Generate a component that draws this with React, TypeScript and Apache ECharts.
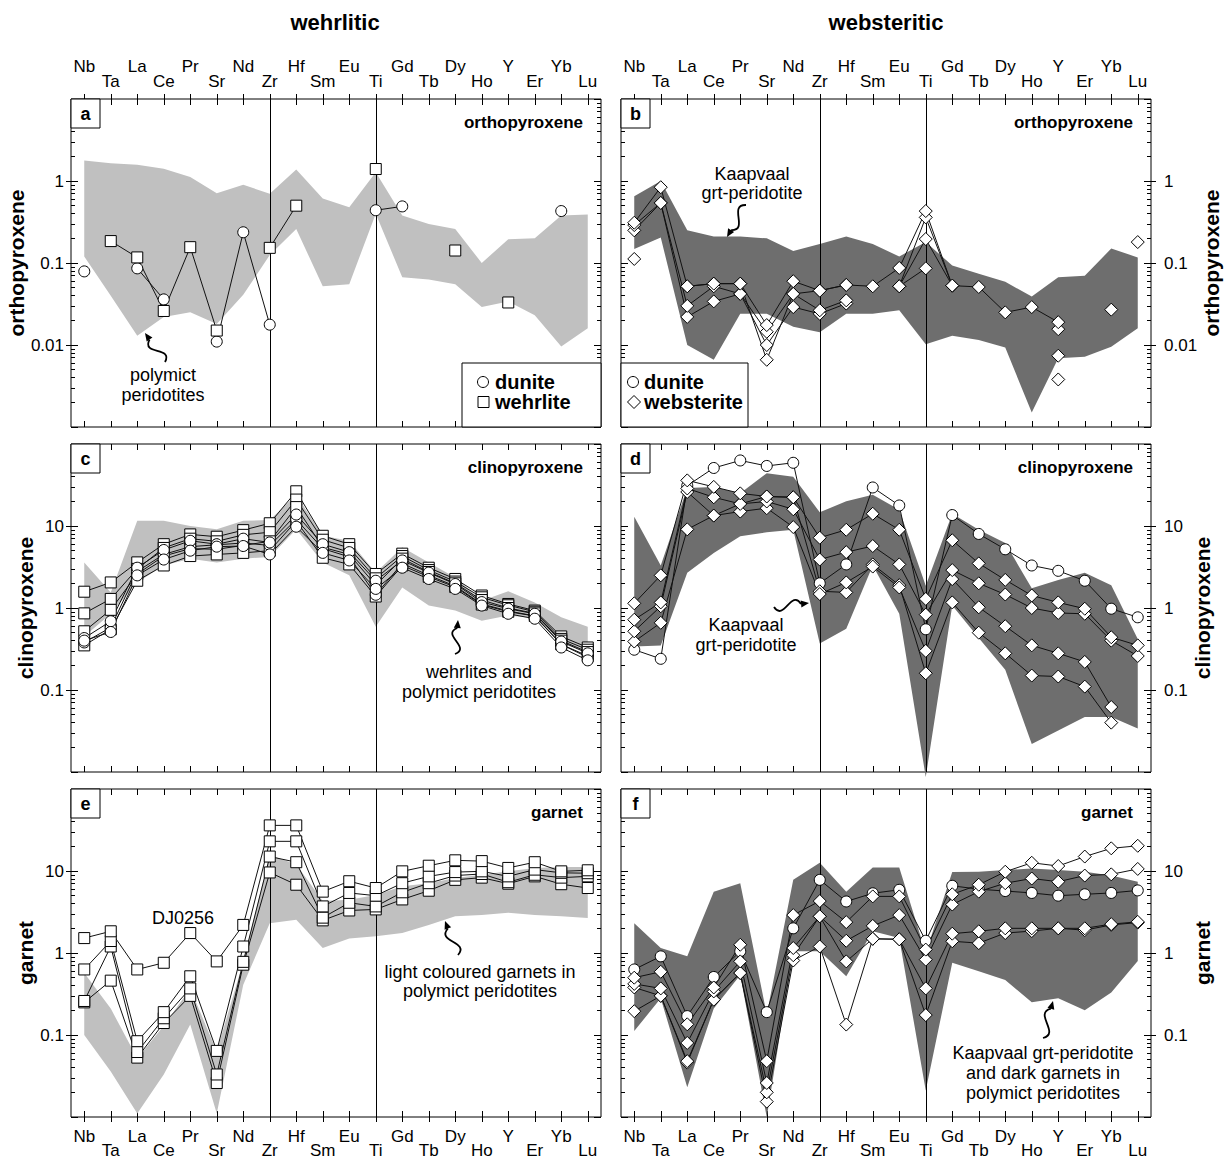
import React, { useEffect, useRef } from 'react';
import * as echarts from 'echarts';

// ---------- categories ----------
const ELEMENTS = ['Nb', 'Ta', 'La', 'Ce', 'Pr', 'Sr', 'Nd', 'Zr', 'Hf', 'Sm', 'Eu', 'Ti', 'Gd', 'Tb', 'Dy', 'Ho', 'Y', 'Er', 'Yb', 'Lu'];

// ---------- panel a : orthopyroxene, wehrlitic ----------
const A_BAND_HI = [1.78, 1.65, 1.58, 1.41, 1.12, 0.71, 0.9, 0.7, 1.38, 0.61, 0.48, 1.28, 0.38, 0.3, 0.26, 0.1, 0.195, 0.2, 0.38, 0.39];
const A_BAND_LO = [0.12, 0.04, 0.013, 0.022, 0.025, 0.018, 0.041, 0.125, 0.26, 0.052, 0.055, 0.4, 0.067, 0.063, 0.055, 0.029, 0.034, 0.023, 0.0096, 0.016];
const A_DUNITE = [0.079, null, 0.086, 0.036, null, 0.011, 0.237, 0.0177, null, null, null, 0.44, 0.49, null, null, null, null, null, 0.43, null];
const A_WEHRLITE = [null, 0.185, 0.117, 0.026, 0.156, 0.015, null, 0.153, 0.5, null, null, 1.4, null, null, 0.142, null, 0.033, null, null, null];

// ---------- panel b : orthopyroxene, websteritic ----------
const B_BAND_HI = [0.65, 1.0, 0.25, 0.21, 0.21, 0.2, 0.14, 0.17, 0.21, 0.17, 0.12, 0.18, 0.093, 0.074, 0.059, 0.039, 0.067, 0.07, 0.15, 0.117];
const B_BAND_LO = [0.148, 0.205, 0.01, 0.0066, 0.024, 0.024, 0.0167, 0.0143, 0.024, 0.024, 0.0265, 0.0102, 0.013, 0.0115, 0.0093, 0.0015, 0.0069, 0.0072, 0.0095, 0.016];
const B_WEB_1 = [0.31, 0.84, 0.052, 0.056, 0.056, 0.0175, 0.06, 0.046, 0.054, 0.052, 0.087, 0.43, 0.053, 0.051, 0.025, 0.029, 0.019, null, 0.027, null];
const B_WEB_2 = [0.29, 0.54, 0.03, 0.052, 0.042, 0.0145, 0.042, 0.0265, 0.035, null, 0.052, 0.36, 0.053, null, null, null, 0.0156, null, null, 0.18];
const B_WEB_3 = [0.25, 0.54, 0.022, 0.034, 0.042, 0.01, 0.029, 0.024, 0.032, null, 0.052, 0.196, 0.053, null, null, null, 0.0074, null, null, null];
const B_WEB_4 = [0.112, null, 0.052, 0.056, 0.056, 0.0066, 0.042, 0.046, 0.054, null, 0.052, 0.086, null, null, null, null, 0.0038, null, null, null];

// ---------- panel c : clinopyroxene, wehrlitic ----------
const C_BAND_HI = [3.6, 1.55, 11.6, 11.6, 10, 9.1, 11.6, 11.8, 24, 7.6, 6.6, 2.7, 5.5, 3.6, 2.36, 1.23, 1.6, 1.17, 0.77, 0.59];
const C_BAND_LO = [0.45, 0.85, 2.05, 3.3, 4.0, 3.6, 4.0, 4.2, 9.1, 3.6, 2.5, 0.59, 1.78, 1.07, 0.93, 0.7, 0.81, 0.75, 0.37, 0.29];
const C_WEH_1 = [1.58, 2.05, 3.6, 6.0, 7.9, 7.4, 8.9, 10.8, 26.5, 7.6, 6.0, 2.6, 4.6, 3.1, 2.26, 1.42, 1.12, 0.93, 0.45, 0.33];
const C_WEH_2 = [0.86, 1.29, 3.0, 5.4, 7.0, 6.5, 7.8, 8.4, 21, 6.8, 5.4, 2.3, 4.3, 2.9, 2.1, 1.35, 1.08, 0.9, 0.42, 0.31];
const C_WEH_3 = [0.52, 0.95, 2.6, 4.3, 5.3, 5.2, 5.8, 6.5, 17, 5.5, 4.5, 1.9, 4.0, 2.75, 2.0, 1.25, 1.0, 0.86, 0.4, 0.29];
const C_WEH_4 = [0.35, 0.55, 2.15, 3.3, 4.3, 4.5, 4.7, 5.0, 11.5, 4.1, 3.4, 1.38, 3.3, 2.4, 1.8, 1.1, 0.9, 0.8, 0.36, 0.26];
const C_DUN_1 = [0.43, 0.69, 3.1, 5.1, 6.6, 6.0, 7.0, 6.3, 13.8, 6.0, 4.8, 2.15, 3.8, 2.7, 1.96, 1.18, 0.98, 0.85, 0.39, 0.28];
const C_DUN_2 = [0.4, 0.51, 2.5, 3.9, 5.0, 5.6, 5.7, 4.5, 9.8, 4.7, 3.8, 1.71, 3.1, 2.26, 1.71, 1.07, 0.85, 0.74, 0.33, 0.23];
const C_DUN_3 = [0.38, 0.58, 2.8, 4.5, 5.6, 5.9, 6.2, 5.8, 12, 5.3, 4.2, 1.45, 3.5, 2.5, 1.85, 1.12, 0.92, 0.8, 0.36, 0.25];

// ---------- panel d : clinopyroxene, websteritic ----------
const D_BAND_HI = [13, 3.3, 29, 30, 25, 44, 40, 14.7, 20, 24, 15.8, 1.87, 14.1, 9.0, 6.2, 1.74, 2.2, 2.7, 1.9, 0.42];
const D_BAND_LO = [0.34, 0.35, 2.7, 4.7, 7.5, 8.4, 9.0, 0.37, 0.56, 3.3, 0.85, 0.0087, 1.07, 0.43, 0.176, 0.022, 0.032, 0.047, 0.047, 0.034];
const D_DUN_1 = [0.31, 0.24, 31, 51, 63, 54, 59, 2.0, 3.4, 29.5, 17.8, 0.55, 13.6, 8.0, 5.2, 3.3, 2.84, 2.15, 0.98, 0.77];
const D_WEB_1 = [1.14, 2.5, 36, 30, 25, 22.9, 22.4, 7.2, 9.0, 14.1, 9.0, 1.29, 6.7, 3.5, 2.2, 1.42, 1.17, 0.98, 0.44, 0.35];
const D_WEB_2 = [0.72, 1.17, 28.7, 22.4, 18.6, 19.9, 16, 3.9, 4.8, 5.7, 3.4, 0.83, 2.9, 2.0, 1.46, 1.0, 0.87, 0.85, 0.4, 0.26];
const D_WEB_3 = [0.52, 1.05, 26, 13.4, 15, 16.5, 9.7, 1.48, 2.05, 3.2, 1.78, 0.3, 2.25, 1.02, 0.6, 0.35, 0.28, 0.22, 0.062, null];
const D_WEB_4 = [0.39, 0.66, 9.1, 13.4, 18.6, 22.9, 22.4, 1.6, 1.55, 3.4, 1.9, 0.16, 1.17, 0.5, 0.28, 0.15, 0.146, 0.11, 0.04, null];

// ---------- panel e : garnet, wehrlitic ----------
const E_BAND_HI = [0.57, 0.21, 0.052, 0.13, 0.37, 0.063, 0.79, 15.8, 12, 4.3, 4.47, 5.1, 6.5, 7.1, 8.2, 9.0, 9.9, 10.9, 11.2, 11.2];
const E_BAND_LO = [0.1, 0.036, 0.011, 0.033, 0.134, 0.011, 0.41, 2.3, 2.55, 1.15, 1.5, 1.6, 1.75, 2.2, 2.8, 2.9, 3.1, 2.9, 2.8, 2.67];
const E_WEH_DJ0256 = [1.52, 1.84, 0.63, 0.76, 1.75, 0.79, 2.2, 36, 36, 5.6, 7.5, 6.2, 9.9, 11.6, 13.5, 13.2, 10.9, 12.8, 9.9, 10.2];
const E_WEH_2 = [0.63, 1.4, 0.084, 0.19, 0.52, 0.064, 1.2, 23, 23, 3.7, 5.4, 5.0, 7.1, 8.6, 9.7, 9.9, 8.6, 10.4, 9.5, 9.4];
const E_WEH_3 = [0.26, 1.2, 0.062, 0.16, 0.37, 0.033, 0.78, 15, 12.8, 2.7, 4.1, 3.7, 5.5, 7.1, 8.8, 9.2, 7.3, 9.0, 8.3, 8.6];
const E_WEH_4 = [0.25, 0.46, 0.053, 0.14, 0.3, 0.026, 0.72, 9.6, 6.8, 2.5, 3.3, 3.4, 4.5, 5.75, 7.8, 8.3, 7.0, 8.6, 6.9, 6.2];

// ---------- panel f : garnet, websteritic ----------
const F_BAND_HI = [2.3, 1.15, 0.91, 5.6, 7.1, 0.178, 7.8, 12.6, 5.6, 11, 11, 1.0, 9.7, 9.8, 10.3, 10.7, 10.3, 9.8, 8.8, 7.4];
const F_BAND_LO = [0.112, 0.28, 0.023, 0.21, 0.54, 0.0099, 1.05, 1.05, 0.52, 1.84, 1.52, 0.021, 0.76, 0.6, 0.47, 0.25, 0.28, 0.2, 0.33, 0.8];
const F_DUN_1 = [0.63, 0.91, 0.17, 0.51, 1.05, 0.19, 2.0, 7.8, 4.25, 5.35, 5.9, 1.41, 6.6, 6.0, 5.7, 5.4, 5.0, 5.2, 5.4, 5.8];
const F_WEB_1 = [0.5, 0.59, 0.135, 0.38, 1.26, 0.048, 2.9, 4.3, 2.38, 4.9, 4.9, 1.1, 5.2, 6.8, 9.8, 12.6, 11.5, 15, 18.9, 20.3];
const F_WEB_2 = [0.42, 0.37, 0.08, 0.34, 0.79, 0.026, 1.15, 2.8, 1.41, 2.14, 2.9, 0.83, 3.9, 5.6, 7.1, 8.1, 7.4, 8.8, 9.1, 10.6];
const F_WEB_3 = [0.38, 0.3, 0.048, 0.27, 0.57, 0.02, 0.94, 2.8, 0.79, 1.49, 1.47, 0.37, 1.72, 1.84, 2.0, 2.0, 2.0, 2.0, 2.25, 2.4];
const F_WEB_4 = [0.195, 0.3, 0.046, 0.27, 0.57, 0.0154, 0.81, 1.2, 0.134, 1.49, 1.47, 0.175, 1.39, 1.32, 1.75, 1.85, 2.0, 1.9, 2.2, 2.35];

// ---------- styling ----------
const FONT = '"Liberation Sans", Arial, Helvetica, sans-serif';
const LIGHT = '#c0c0c0';
const DARK = '#6e6e6e';
const W = 530;
const H = 328;

const SYMBOLS: Record<string, { symbol: string; size: number }> = {
  dunite: { symbol: 'circle', size: 11 },
  wehrlite: { symbol: 'rect', size: 11 },
  websterite: { symbol: 'diamond', size: 13 },
};

const PANELS = [
  {
    letter: 'a', left: 71, top: 99, side: 'left', min: 0.001, max: 10, mineral: 'orthopyroxene', xLabels: 'top',
    band: { hi: A_BAND_HI, lo: A_BAND_LO, color: LIGHT },
    samples: [
      { kind: 'dunite', values: A_DUNITE },
      { kind: 'wehrlite', values: A_WEHRLITE },
    ],
  },
  {
    letter: 'b', left: 621, top: 99, side: 'right', min: 0.001, max: 10, mineral: 'orthopyroxene', xLabels: 'top',
    band: { hi: B_BAND_HI, lo: B_BAND_LO, color: DARK },
    samples: [
      { kind: 'websterite', values: B_WEB_4 },
      { kind: 'websterite', values: B_WEB_3 },
      { kind: 'websterite', values: B_WEB_2 },
      { kind: 'websterite', values: B_WEB_1 },
    ],
  },
  {
    letter: 'c', left: 71, top: 444, side: 'left', min: 0.01, max: 100, mineral: 'clinopyroxene', xLabels: null,
    band: { hi: C_BAND_HI, lo: C_BAND_LO, color: LIGHT },
    samples: [
      { kind: 'wehrlite', values: C_WEH_1 },
      { kind: 'wehrlite', values: C_WEH_2 },
      { kind: 'wehrlite', values: C_WEH_3 },
      { kind: 'wehrlite', values: C_WEH_4 },
      { kind: 'dunite', values: C_DUN_3 },
      { kind: 'dunite', values: C_DUN_1 },
      { kind: 'dunite', values: C_DUN_2 },
    ],
  },
  {
    letter: 'd', left: 621, top: 444, side: 'right', min: 0.01, max: 100, mineral: 'clinopyroxene', xLabels: null,
    band: { hi: D_BAND_HI, lo: D_BAND_LO, color: DARK },
    samples: [
      { kind: 'dunite', values: D_DUN_1 },
      { kind: 'websterite', values: D_WEB_4 },
      { kind: 'websterite', values: D_WEB_3 },
      { kind: 'websterite', values: D_WEB_2 },
      { kind: 'websterite', values: D_WEB_1 },
    ],
  },
  {
    letter: 'e', left: 71, top: 789, side: 'left', min: 0.01, max: 100, mineral: 'garnet', xLabels: 'bottom',
    band: { hi: E_BAND_HI, lo: E_BAND_LO, color: LIGHT },
    samples: [
      { kind: 'wehrlite', values: E_WEH_4 },
      { kind: 'wehrlite', values: E_WEH_3 },
      { kind: 'wehrlite', values: E_WEH_2 },
      { kind: 'wehrlite', values: E_WEH_DJ0256 },
    ],
  },
  {
    letter: 'f', left: 621, top: 789, side: 'right', min: 0.01, max: 100, mineral: 'garnet', xLabels: 'bottom',
    band: { hi: F_BAND_HI, lo: F_BAND_LO, color: DARK },
    samples: [
      { kind: 'websterite', values: F_WEB_4 },
      { kind: 'websterite', values: F_WEB_3 },
      { kind: 'dunite', values: F_DUN_1 },
      { kind: 'websterite', values: F_WEB_2 },
      { kind: 'websterite', values: F_WEB_1 },
    ],
  },
];

const ANNOTATIONS = [
  { lines: ['polymict', 'peridotites'], x: 163, y: [375, 395], tail: [165, 362], tip: [145, 333] },
  { lines: ['Kaapvaal', 'grt-peridotite'], x: 752, y: [174, 193], tail: [746, 205], tip: [727, 237] },
  { lines: ['wehrlites and', 'polymict peridotites'], x: 479, y: [672, 692], tail: [455, 654], tip: [458, 620] },
  { lines: ['Kaapvaal', 'grt-peridotite'], x: 746, y: [625, 645], tail: [774, 607], tip: [809, 603] },
  { lines: ['light coloured garnets in', 'polymict peridotites'], x: 480, y: [972, 991], tail: [458, 955], tip: [445, 921] },
  { lines: ['Kaapvaal grt-peridotite', 'and dark garnets in', 'polymict peridotites'], x: 1043, y: [1053, 1073, 1093], tail: [1043, 1038], tip: [1053, 1001] },
];

const fmtLog = (v: number) => {
  const e = Math.round(Math.log10(v));
  return e >= 0 ? String(Math.pow(10, e)) : Math.pow(10, e).toFixed(-e);
};

function squiggleArrow(tail: number[], tip: number[]) {
  const [x0, y0] = tail;
  const [x1, y1] = tip;
  const dx = x1 - x0;
  const dy = y1 - y0;
  const L = Math.hypot(dx, dy);
  const ux = dx / L, uy = dy / L;
  const nx = -uy, ny = ux;
  const head = 8;
  const bx = x1 - ux * head, by = y1 - uy * head;
  const amp = 16;
  return [
    {
      type: 'bezierCurve', silent: true, z: 100,
      shape: {
        x1: x0, y1: y0, x2: bx, y2: by,
        cpx1: x0 + (bx - x0) * 0.3 + nx * amp, cpy1: y0 + (by - y0) * 0.3 + ny * amp,
        cpx2: x0 + (bx - x0) * 0.7 - nx * amp, cpy2: y0 + (by - y0) * 0.7 - ny * amp,
      },
      style: { stroke: '#000', lineWidth: 1.8, fill: null },
    },
    {
      type: 'polygon', silent: true, z: 100,
      shape: { points: [[x1, y1], [bx + nx * 3.5, by + ny * 3.5], [bx - nx * 3.5, by - ny * 3.5]] },
      style: { fill: '#000' },
    },
  ];
}

function buildOption() {
  const grid: any[] = [];
  const xAxis: any[] = [];
  const yAxis: any[] = [];
  const series: any[] = [];
  const graphic: any[] = [];
  const lineStyle = { color: '#000', width: 1 };

  PANELS.forEach((p, gi) => {
    grid.push({ left: p.left, top: p.top, width: W, height: H, show: true, borderColor: '#000', borderWidth: 1, backgroundColor: 'transparent' });

    const catBase = {
      gridIndex: gi, type: 'category', data: ELEMENTS, boundaryGap: true,
      axisLine: { show: false, onZero: false }, splitLine: { show: false },
    };
    const xBase = xAxis.length;
    const tickIn = { show: true, inside: true, length: 6, alignWithLabel: true, interval: 0, lineStyle };
    xAxis.push({ ...catBase, position: 'bottom', axisTick: tickIn, axisLabel: { show: false } });
    xAxis.push({ ...catBase, position: 'top', axisTick: tickIn, axisLabel: { show: false } });
    if (p.xLabels) {
      const isTop = p.xLabels === 'top';
      const lbl = { show: true, fontSize: 17, fontFamily: FONT, color: '#000' };
      xAxis.push({
        ...catBase, position: p.xLabels,
        axisTick: { show: true, inside: false, length: 5, alignWithLabel: true, interval: 0, lineStyle },
        axisLabel: { ...lbl, interval: (i: number) => i % 2 === 0, margin: isTop ? 24 : 11 },
      });
      xAxis.push({
        ...catBase, position: p.xLabels,
        axisTick: { show: false },
        axisLabel: { ...lbl, interval: (i: number) => i % 2 === 1, margin: isTop ? 9 : 25 },
      });
    }

    const logBase = {
      gridIndex: gi, type: 'log', logBase: 10, min: p.min, max: p.max,
      axisLine: { show: false, onZero: false }, splitLine: { show: false }, minorSplitLine: { show: false },
    };
    const other = p.side === 'left' ? 'right' : 'left';
    const yBase = yAxis.length;
    yAxis.push({
      ...logBase, position: p.side,
      axisTick: { show: true, inside: false, length: 5, lineStyle },
      minorTick: { show: false },
      axisLabel: {
        show: true, margin: p.side === 'left' ? 7 : 13, fontSize: 17, fontFamily: FONT, color: '#000',
        formatter: fmtLog, showMinLabel: false, showMaxLabel: false,
      },
      name: p.mineral, nameLocation: 'middle', nameGap: p.side === 'left' ? 26 : 34, nameRotate: 90,
      nameTextStyle: { fontSize: 21, fontWeight: 'bold', fontFamily: FONT, color: '#000' },
    });
    const inTicks = {
      axisTick: { show: true, inside: true, length: 7, lineStyle },
      minorTick: { show: true, splitNumber: 9, length: 4, lineStyle },
      axisLabel: { show: false },
    };
    yAxis.push({ ...logBase, position: p.side, ...inTicks });
    yAxis.push({ ...logBase, position: other, ...inTicks });

    // field of comparison samples
    const hi = p.band.hi, lo = p.band.lo, bandColor = p.band.color;
    series.push({
      type: 'custom', xAxisIndex: xBase, yAxisIndex: yBase, z: 1, silent: true, clip: false,
      data: hi.map((v, i) => [i, v]), encode: { x: 0, y: 1 },
      renderItem: (params: any, api: any) => {
        if (params.dataIndex !== 0) return null;
        const pts: number[][] = [];
        hi.forEach((v, i) => pts.push(api.coord([i, v])));
        for (let i = lo.length - 1; i >= 0; i--) pts.push(api.coord([i, lo[i]]));
        return { type: 'polygon', shape: { points: pts }, style: { fill: bandColor, stroke: null } };
      },
    });

    p.samples.forEach((s, si) => {
      const sym = SYMBOLS[s.kind];
      series.push({
        type: 'line', name: s.kind, xAxisIndex: xBase, yAxisIndex: yBase,
        data: s.values.map((v) => (v == null ? '-' : v)),
        symbol: sym.symbol, symbolSize: sym.size, showSymbol: true, showAllSymbol: true, connectNulls: false,
        lineStyle: { color: '#111', width: 1 },
        itemStyle: { color: '#fff', borderColor: '#000', borderWidth: 1 },
        emphasis: { disabled: true }, silent: true, z: 10,
        markLine: si === 0 ? {
          silent: true, symbol: ['none', 'none'], label: { show: false }, z: 5,
          lineStyle: { color: '#000', width: 1, type: 'solid' },
          data: [{ xAxis: 'Zr' }, { xAxis: 'Ti' }],
        } : undefined,
      });
    });

    // letter box
    graphic.push({ type: 'rect', silent: true, z: 100, shape: { x: p.left, y: p.top, width: 29, height: 29 }, style: { fill: '#fff', stroke: '#000', lineWidth: 1 } });
    graphic.push({ type: 'text', silent: true, z: 101, x: p.left + 14.5, y: p.top + 15, style: { text: p.letter, fontSize: 18, fontWeight: 'bold', fontFamily: FONT, fill: '#000', align: 'center', verticalAlign: 'middle' } });
    // mineral title inside panel
    graphic.push({ type: 'text', silent: true, z: 101, x: p.left + W - 18, y: p.top + 23.5, style: { text: p.mineral, fontSize: 17, fontWeight: 'bold', fontFamily: FONT, fill: '#000', align: 'right', verticalAlign: 'middle' } });
  });

  // column titles
  graphic.push({ type: 'text', silent: true, z: 101, x: 335, y: 22, style: { text: 'wehrlitic', fontSize: 22, fontWeight: 'bold', fontFamily: FONT, fill: '#000', align: 'center', verticalAlign: 'middle' } });
  graphic.push({ type: 'text', silent: true, z: 101, x: 886, y: 22, style: { text: 'websteritic', fontSize: 22, fontWeight: 'bold', fontFamily: FONT, fill: '#000', align: 'center', verticalAlign: 'middle' } });

  // legends
  const legTxt = (text: string, x: number, y: number) => ({ type: 'text', silent: true, z: 101, x, y, style: { text, fontSize: 20, fontWeight: 'bold', fontFamily: FONT, fill: '#000', align: 'left', verticalAlign: 'middle' } });
  graphic.push({ type: 'rect', silent: true, z: 100, shape: { x: 462, y: 363, width: 139, height: 64 }, style: { fill: '#fff', stroke: '#000', lineWidth: 1 } });
  graphic.push({ type: 'circle', silent: true, z: 101, shape: { cx: 483, cy: 382, r: 5.5 }, style: { fill: '#fff', stroke: '#000', lineWidth: 1 } });
  graphic.push(legTxt('dunite', 495, 382));
  graphic.push({ type: 'rect', silent: true, z: 101, shape: { x: 478, y: 396.5, width: 11, height: 11 }, style: { fill: '#fff', stroke: '#000', lineWidth: 1 } });
  graphic.push(legTxt('wehrlite', 495, 402));
  graphic.push({ type: 'rect', silent: true, z: 100, shape: { x: 621, y: 363, width: 127, height: 64 }, style: { fill: '#fff', stroke: '#000', lineWidth: 1 } });
  graphic.push({ type: 'circle', silent: true, z: 101, shape: { cx: 633, cy: 382, r: 5.5 }, style: { fill: '#fff', stroke: '#000', lineWidth: 1 } });
  graphic.push(legTxt('dunite', 644, 382));
  graphic.push({ type: 'polygon', silent: true, z: 101, shape: { points: [[634, 395.5], [640.5, 402], [634, 408.5], [627.5, 402]] }, style: { fill: '#fff', stroke: '#000', lineWidth: 1 } });
  graphic.push(legTxt('websterite', 644, 402));

  // annotations
  ANNOTATIONS.forEach((a) => {
    a.lines.forEach((t, i) => {
      graphic.push({ type: 'text', silent: true, z: 101, x: a.x, y: a.y[i], style: { text: t, fontSize: 18, fontFamily: FONT, fill: '#000', align: 'center', verticalAlign: 'middle' } });
    });
    squiggleArrow(a.tail, a.tip).forEach((g) => graphic.push(g));
  });
  graphic.push({ type: 'text', silent: true, z: 101, x: 183, y: 918, style: { text: 'DJ0256', fontSize: 18, fontFamily: FONT, fill: '#000', align: 'center', verticalAlign: 'middle' } });

  return {
    animation: false,
    backgroundColor: '#fff',
    textStyle: { fontFamily: FONT },
    grid, xAxis, yAxis, series, graphic,
  };
}

export default function App() {
  const ref = useRef<HTMLDivElement>(null);
  useEffect(() => {
    if (!ref.current) return;
    const chart = echarts.init(ref.current, null, { renderer: 'svg' });
    chart.setOption(buildOption() as any);
    return () => chart.dispose();
  }, []);
  return <div ref={ref} style={{ position: 'absolute', left: 0, top: 0, width: 1226, height: 1160, background: '#fff' }} />;
}
